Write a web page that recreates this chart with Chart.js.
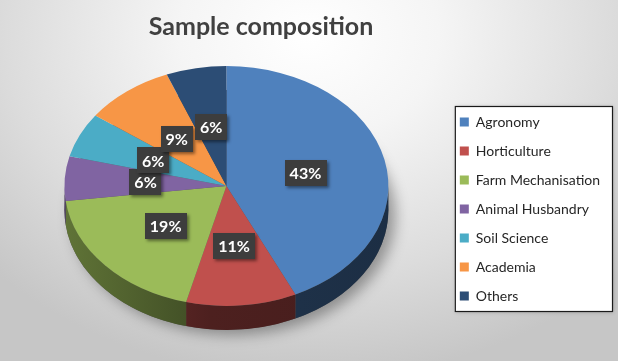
<!DOCTYPE html>
<html>
<head>
<meta charset="utf-8">
<script src="https://cdn.jsdelivr.net/npm/chart.js@4.4.1/dist/chart.umd.min.js"></script>
<style>
  body { margin: 0; }
  #wrap {
    width: 618px; height: 361px;
    background: radial-gradient(ellipse 70% 95% at 50% 10%, #ffffff 0%, #f5f5f5 30%, #dcdcdc 70%, #c6c6c6 100%);
  }
</style>
</head>
<body>
<div id="wrap"><canvas id="pie" width="618" height="361"></canvas></div>
<script>
// data
const categories = ['Agronomy', 'Horticulture', 'Farm Mechanisation', 'Animal Husbandry', 'Soil Science', 'Academia', 'Others'];
const shares = [43, 11, 19, 6, 6, 9, 6];
const sliceColors = ['#4f81bd', '#c0504d', '#9bbb59', '#8064a2', '#4bacc6', '#f79646', '#2c4d75'];

const tilt = 0.74;      // vertical squash of the pie
const depth = 24;       // thickness of the pie side, px
const fontFam = 'Lato, "Open Sans", sans-serif';

function shade(hex, f) {
  const n = parseInt(hex.slice(1), 16);
  const r = Math.round(((n >> 16) & 255) * f), g = Math.round(((n >> 8) & 255) * f), b = Math.round((n & 255) * f);
  return 'rgb(' + r + ',' + g + ',' + b + ')';
}

// front half of the rim only (0..PI in canvas angles)
function frontSpans(a0, a1) {
  const out = [];
  [-2 * Math.PI, 0, 2 * Math.PI].forEach(base => {
    const s = Math.max(a0, base), e = Math.min(a1, base + Math.PI);
    if (e > s) out.push([s, e]);
  });
  return out;
}

const pie3d = {
  id: 'pie3d',
  afterLayout(chart) {
    // title sits a bit left of the page centre, legend a bit lower
    const t = chart.titleBlock;
    t.right = 2 * 261 - t.left;
    chart.legend.top += 23;
    chart.legend.bottom += 23;
  },
  beforeDraw(chart) {
    // white legend box
    const boxes = chart.legend.legendHitBoxes;
    if (!boxes || !boxes.length) return;
    const ctx = chart.ctx;
    const l = Math.min(...boxes.map(b => b.left)) - 5;
    const r = 612;
    const t = boxes[0].top - 9;
    const b = boxes[boxes.length - 1].top + boxes[boxes.length - 1].height + 8;
    ctx.save();
    ctx.shadowColor = 'rgba(0,0,0,0.25)';
    ctx.shadowBlur = 4;
    ctx.shadowOffsetX = 1;
    ctx.shadowOffsetY = 1;
    ctx.fillStyle = '#ffffff';
    ctx.fillRect(l, t, r - l, b - t);
    ctx.shadowColor = 'transparent';
    ctx.strokeStyle = '#1a1a1a';
    ctx.lineWidth = 1.2;
    ctx.strokeRect(l + 0.5, t + 0.5, r - l, b - t);
    ctx.restore();
  },
  beforeDatasetsDraw(chart) {
    const ctx = chart.ctx;
    const arcs = chart.getDatasetMeta(0).data;
    const cx = arcs[0].x, cy = arcs[0].y, rad = arcs[0].outerRadius;
    const d = depth / tilt;
    ctx.save();
    ctx.translate(cx, cy);
    ctx.scale(1, tilt);
    ctx.translate(-cx, -cy);

    // soft shadow under the pie
    ctx.save();
    ctx.shadowColor = 'rgba(0,0,0,0.35)';
    ctx.shadowBlur = 14;
    ctx.shadowOffsetX = 7;
    ctx.shadowOffsetY = 5;
    ctx.fillStyle = '#555';
    ctx.beginPath();
    ctx.arc(cx, cy + d, rad, 0, Math.PI * 2);
    ctx.fill();
    ctx.restore();

    // sides
    arcs.forEach((arc, i) => {
      const base = sliceColors[i];
      const g = ctx.createLinearGradient(cx - rad, 0, cx + rad, 0);
      g.addColorStop(0, shade(base, 0.62));
      g.addColorStop(0.45, shade(base, 0.4));
      g.addColorStop(1, shade(base, 0.36));
      ctx.fillStyle = g;
      frontSpans(arc.startAngle, arc.endAngle).forEach(([s, e]) => {
        ctx.beginPath();
        ctx.arc(cx, cy, rad, s, e);
        ctx.arc(cx, cy + d, rad, e, s, true);
        ctx.closePath();
        ctx.fill();
      });
    });
  },
  afterDatasetsDraw(chart) {
    const ctx = chart.ctx;
    ctx.restore();
    const arcs = chart.getDatasetMeta(0).data;
    const cy = arcs[0].y;
    const total = shares.reduce((a, b) => a + b, 0);
    ctx.save();
    ctx.font = 'bold 16px ' + fontFam;
    ctx.textAlign = 'center';
    ctx.textBaseline = 'middle';
    arcs.forEach((arc, i) => {
      const p = arc.tooltipPosition();
      const x = p.x, y = cy + (p.y - cy) * tilt;
      const txt = Math.round(shares[i] / total * 100) + '%';
      const w = ctx.measureText(txt).width + 10, h = 26;
      ctx.save();
      ctx.shadowColor = 'rgba(0,0,0,0.45)';
      ctx.shadowBlur = 3;
      ctx.shadowOffsetX = 2;
      ctx.shadowOffsetY = 2;
      ctx.fillStyle = '#3d3d3d';
      ctx.fillRect(Math.round(x - w / 2), Math.round(y - h / 2), Math.round(w), h);
      ctx.restore();
      ctx.fillStyle = '#ffffff';
      ctx.fillText(txt, x, y + 1);
    });
    ctx.restore();
  }
};

new Chart(document.getElementById('pie'), {
  type: 'pie',
  data: {
    labels: categories,
    datasets: [{
      data: shares,
      backgroundColor: sliceColors,
      borderWidth: 0,
      radius: 162,
      clip: false
    }]
  },
  options: {
    responsive: false,
    animation: false,
    devicePixelRatio: 1,
    layout: { padding: { left: 8, right: 8, top: 0, bottom: 39 } },
    plugins: {
      title: {
        display: true,
        text: 'Sample composition',
        color: '#404040',
        font: { family: fontFam, size: 25, weight: 'bold' },
        padding: { top: 12, bottom: 8 }
      },
      legend: {
        position: 'right',
        fullSize: false,
        labels: {
          color: '#262626',
          font: { family: fontFam, size: 14 },
          boxWidth: 9,
          boxHeight: 9,
          padding: 15
        }
      },
      tooltip: { enabled: false }
    }
  },
  plugins: [pie3d]
});
</script>
</body>
</html>
